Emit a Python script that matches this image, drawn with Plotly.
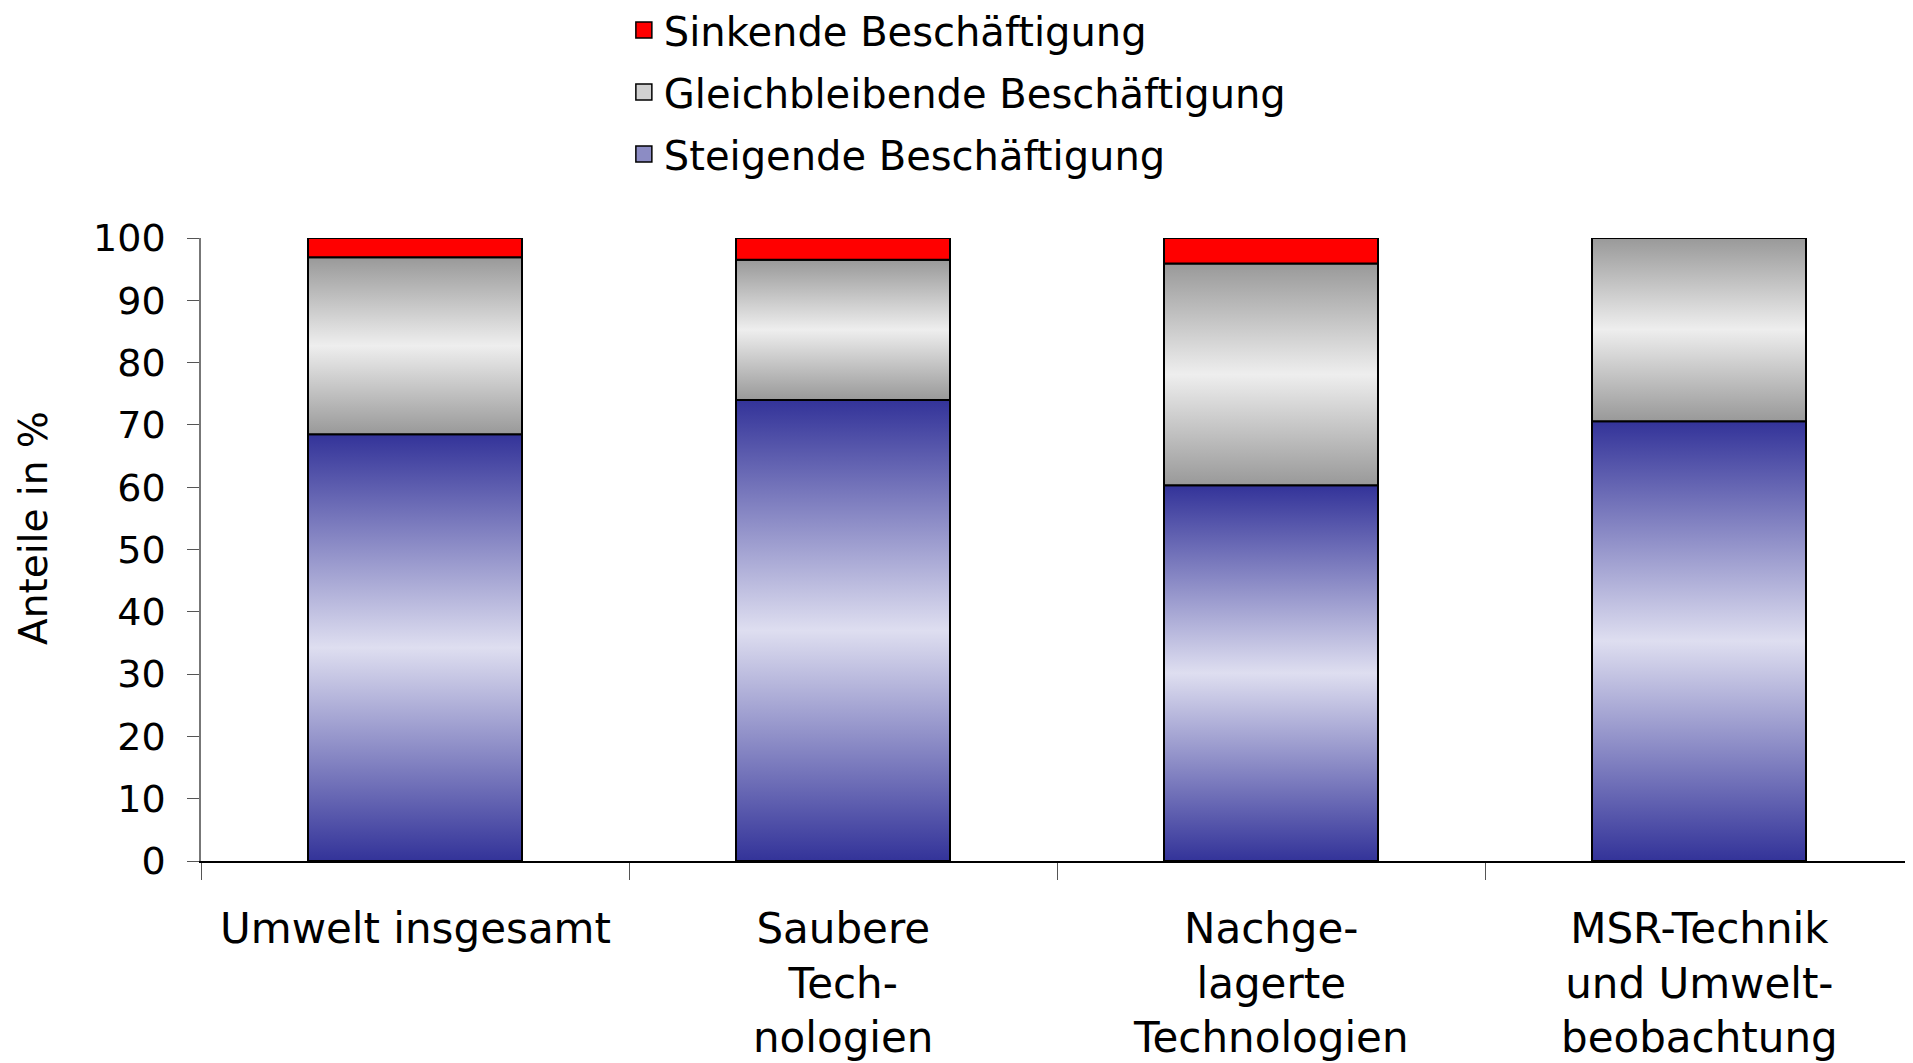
import plotly.graph_objects as go

# Data (percent shares)
categories = ["Umwelt insgesamt", "Saubere<br>Tech-<br>nologien",
              "Nachge-<br>lagerte<br>Technologien", "MSR-Technik<br>und Umwelt-<br>beobachtung"]
steigend = [68.5, 74.0, 60.3, 70.6]
gleich = [28.4, 22.5, 35.6, 29.4]
sinkend = [3.1, 3.5, 4.1, 0.0]

series_names = ["Steigende Beschäftigung", "Gleichbleibende Beschäftigung", "Sinkende Beschäftigung"]
y_ticks = [0, 10, 20, 30, 40, 50, 60, 70, 80, 90, 100]

FONT = "Century Gothic, DejaVu Sans, sans-serif"
BAR_W = 0.5

# Office-style "horizon" gradients
scales = {
    "Steigende Beschäftigung": [[0, "#333399"], [0.5, "#dedef0"], [1, "#333399"]],
    "Gleichbleibende Beschäftigung": [[0, "#999999"], [0.5, "#eeeeee"], [1, "#999999"]],
    "Sinkende Beschäftigung": [[0, "#ff0000"], [1, "#ff0000"]],
}
swatch = {
    "Steigende Beschäftigung": "#8c8cc4",
    "Gleichbleibende Beschäftigung": "#d0d0d0",
    "Sinkende Beschäftigung": "#ff0000",
}

fig = go.Figure()

series = [steigend, gleich, sinkend]
base = [0.0] * len(categories)
for name, vals in zip(series_names, series):
    for i, v in enumerate(vals):
        if v <= 0:
            continue
        y0, y1 = base[i], base[i] + v
        xl, xr = i - BAR_W / 2, i + BAR_W / 2
        fig.add_trace(go.Scatter(
            x=[xl, xr, xr, xl, xl],
            y=[y0, y0, y1, y1, y0],
            mode="lines",
            fill="toself",
            fillgradient=dict(type="vertical", colorscale=scales[name]),
            line=dict(color="black", width=2),
            showlegend=False,
            hoverinfo="skip",
        ))
    base = [b + v for b, v in zip(base, vals)]

# legend-only entries (square swatches), top of stack listed first
for name in reversed(series_names):
    fig.add_trace(go.Scatter(
        x=[None], y=[None], name=name, legendgroup=name,
        mode="markers",
        marker=dict(symbol="square", size=22, color=swatch[name],
                    line=dict(color="black", width=1.5)),
    ))

# Category labels under each bar
for i, lab in enumerate(categories):
    fig.add_annotation(
        x=i, y=0, xref="x", yref="paper",
        text=lab, showarrow=False,
        yanchor="top", yshift=-41,
        font=dict(family=FONT, size=42, color="black"),
        align="center",
    )

fig.add_annotation(
    x=-0.098, y=0.535, xref="paper", yref="paper",
    xanchor="center", yanchor="middle",
    text="Anteile in %", textangle=-90, showarrow=False,
    font=dict(family=FONT, size=39, color="black"),
)

fig.update_layout(
    width=1913, height=1063,
    margin=dict(l=193, r=8, t=230, b=210, autoexpand=False),
    paper_bgcolor="white",
    plot_bgcolor="white",
    font=dict(family=FONT, color="black"),
    showlegend=True,
    legend=dict(
        x=0.247, y=1.386, xanchor="left", yanchor="top",
        traceorder="grouped",
        font=dict(family=FONT, size=40),
        bgcolor="rgba(0,0,0,0)",
        itemsizing="trace",
        tracegroupgap=7,
    ),
    xaxis=dict(
        range=[-0.5, 3.5],
        tickvals=[-0.5, 0.5, 1.5, 2.5, 3.5],
        showticklabels=False,
        ticks="outside", ticklen=17, tickcolor="#555",
        showline=True, linecolor="black", linewidth=1.5,
        showgrid=False, zeroline=False,
    ),
    yaxis=dict(
        range=[0, 100],
        tickvals=y_ticks,
        ticks="outside", ticklen=12, tickcolor="#555",
        ticklabelstandoff=14,
        tickfont=dict(family=FONT, size=38, color="black"),
        showline=True, linecolor="#777", linewidth=1.5,
        showgrid=False, zeroline=False,
    ),
)

fig.write_html("out.html")
